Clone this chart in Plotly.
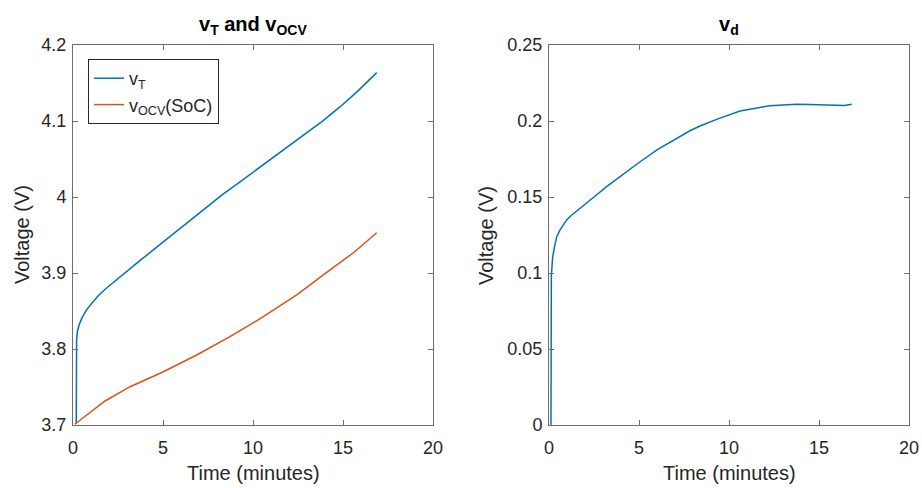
import plotly.graph_objects as go

# ---- data ----
t_vt = [0.18, 0.2, 0.25, 0.35, 0.5, 0.74, 1.0, 1.4, 1.85, 2.3, 2.8, 3.25, 3.7, 4.6,
        5.56, 6.5, 7.41, 8.3, 9.28, 10.2, 11.13, 12.05, 12.98, 13.9, 14.83, 15.85, 16.87]
v_t = [3.702, 3.812, 3.824, 3.8325, 3.841, 3.851, 3.859, 3.870, 3.880, 3.889, 3.898,
       3.907, 3.916, 3.933, 3.951, 3.969, 3.986, 4.003, 4.020, 4.036, 4.052, 4.068,
       4.084, 4.1005, 4.1185, 4.140, 4.1636]

t_ocv = [0.1, 1.78, 3.17, 5.02, 6.87, 8.72, 10.57, 12.43, 14.28, 15.6, 16.87]
v_ocv = [3.701, 3.7316, 3.7504, 3.7701, 3.7921, 3.8162, 3.8425, 3.8711, 3.904, 3.927, 3.953]

t_d = [0.08, 0.11, 0.13, 0.15, 0.2, 0.3, 0.43, 0.6, 0.8, 0.98, 1.2, 1.4, 1.6, 1.91, 2.5,
       3.2, 4.1, 5.06, 6.0, 6.91, 7.83, 8.39, 9.31, 10.61, 11.5, 12.28, 13.0, 13.76,
       14.5, 15.24, 15.98, 16.4, 16.82]
v_d = [0.0, 0.0, 0.098, 0.104, 0.110, 0.117, 0.1239, 0.128, 0.132, 0.1349, 0.1375,
       0.1395, 0.141, 0.1447, 0.150, 0.1568, 0.165, 0.1732, 0.181, 0.1875, 0.1936,
       0.1967, 0.2011, 0.2066, 0.2085, 0.2101, 0.2106, 0.2110, 0.2108, 0.2105, 0.2099,
       0.2102, 0.2110]

x_ticks = [0, 5, 10, 15, 20]
y1_ticks = [3.7, 3.8, 3.9, 4.0, 4.1, 4.2]
y1_labels = ["3.7", "3.8", "3.9", "4", "4.1", "4.2"]
y2_ticks = [0, 0.05, 0.1, 0.15, 0.2, 0.25]
y2_labels = ["0", "0.05", "0.1", "0.15", "0.2", "0.25"]

BLUE = "#0072BD"
ORANGE = "#D95319"
AX = "#262626"
LINE = "#6e6e6e"
FONT = "Liberation Sans, Arial, sans-serif"

fig = go.Figure()
fig.add_trace(go.Scatter(x=t_vt, y=v_t, mode="lines", line=dict(color=BLUE, width=1.5),
                         name="v<sub>T</sub>", xaxis="x", yaxis="y"))
fig.add_trace(go.Scatter(x=t_ocv, y=v_ocv, mode="lines", line=dict(color=ORANGE, width=1.5),
                         name="v<sub>OCV</sub>(SoC)", xaxis="x", yaxis="y"))
fig.add_trace(go.Scatter(x=t_d, y=v_d, mode="lines", line=dict(color=BLUE, width=1.5),
                         showlegend=False, xaxis="x2", yaxis="y2"))

W, H = 922, 488
L1, R1 = 73 / W, 433 / W
L2, R2 = 549 / W, 909 / W
B, T = 1 - 425 / H, 1 - 45 / H

common_axis = dict(showgrid=False, zeroline=False, showline=True, linecolor=LINE, linewidth=1,
                   mirror="ticks", ticks="inside", ticklen=5, tickcolor=LINE, tickwidth=1,
                   automargin=False,
                   tickfont=dict(family=FONT, size=18, color=AX))

fig.update_layout(
    width=W, height=H, margin=dict(l=0, r=0, t=0, b=0),
    paper_bgcolor="white", plot_bgcolor="white",
    font=dict(family=FONT, color=AX),
    xaxis=dict(domain=[L1, R1], range=[0, 20], tickvals=x_ticks, anchor="y",
               ticklabelstandoff=6, **common_axis),
    yaxis=dict(domain=[B, T], range=[3.7, 4.2], tickvals=y1_ticks, ticktext=y1_labels, anchor="x",
               ticklabelstandoff=2, **common_axis),
    xaxis2=dict(domain=[L2, R2], range=[0, 20], tickvals=x_ticks, anchor="y2",
                ticklabelstandoff=6, **common_axis),
    yaxis2=dict(domain=[B, T], range=[0, 0.25], tickvals=y2_ticks, ticktext=y2_labels, anchor="x2",
                ticklabelstandoff=2, **common_axis),
    legend=dict(x=88 / W, y=1 - 59 / H, xanchor="left", yanchor="top",
                bordercolor=AX, borderwidth=1, bgcolor="white",
                font=dict(family=FONT, size=18, color=AX)),
    showlegend=True,
)

ann = []
# subplot titles
ann.append(dict(text="<b>v<sub>T</sub> and v<sub>OCV</sub></b>", x=(L1 + R1) / 2, y=1 - 25 / H))
ann.append(dict(text="<b>v<sub>d</sub></b>", x=(L2 + R2) / 2, y=1 - 25 / H))
for a in ann:
    a.update(xref="paper", yref="paper", showarrow=False, xanchor="center", yanchor="middle",
             font=dict(family=FONT, size=20, color="black"))
# axis titles
for xc in [(L1 + R1) / 2, (L2 + R2) / 2]:
    ann.append(dict(text="Time (minutes)", x=xc, y=1 - 473 / H, xref="paper", yref="paper",
                    showarrow=False, xanchor="center", yanchor="middle",
                    font=dict(family=FONT, size=20, color=AX)))
for xp in [22, 486]:
    ann.append(dict(text="Voltage (V)", x=xp / W, y=1 - 235 / H, xref="paper", yref="paper",
                    showarrow=False, xanchor="center", yanchor="middle", textangle=-90,
                    font=dict(family=FONT, size=20, color=AX)))
fig.update_layout(annotations=ann)

fig.write_html("out.html")
